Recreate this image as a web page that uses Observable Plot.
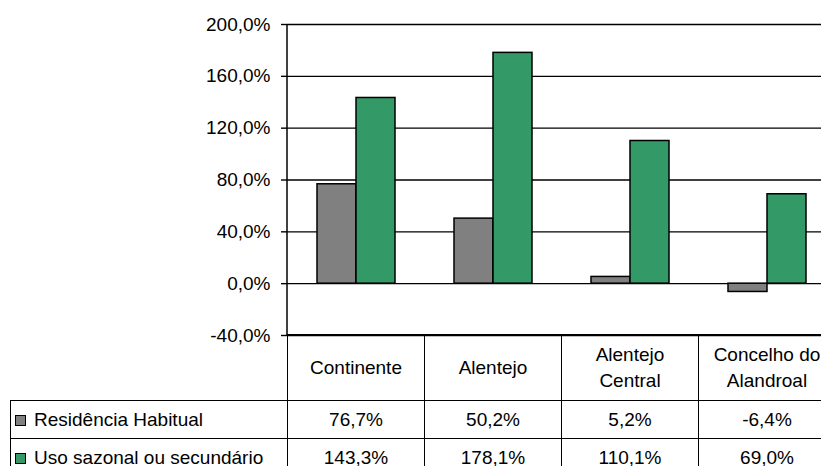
<!DOCTYPE html>
<html lang="pt">
<head>
<meta charset="utf-8">
<script src="https://cdn.jsdelivr.net/npm/d3@7"></script>
<script src="https://cdn.jsdelivr.net/npm/@observablehq/plot@0.6"></script>
<style>
  html, body { margin: 0; padding: 0; background: #fff; overflow: hidden; }
  #grafico { position: relative; width: 821px; height: 466px; overflow: hidden;
             font-family: "Liberation Sans", Arial, sans-serif; color: #000; }
  #grafico svg { position: absolute; left: 0; top: 0; max-width: none !important; }
  #tabela { position: absolute; border-collapse: collapse; table-layout: fixed;
            font-size: 19px; line-height: 26px; }
  #tabela td { border: 1.5px solid #000; text-align: center; padding: 0; white-space: pre-line; }
  #tabela td.vazio { border-top: none; border-left: none; }
  #tabela td.serie { text-align: left; padding-left: 4px; white-space: nowrap; }
  .amostra { display: inline-block; width: 9px; height: 9px; border: 1px solid #000;
             margin-right: 8px; vertical-align: 0px; }
</style>
</head>
<body>
<div id="grafico"></div>
<script>
// Variação do número de alojamentos por tipo de uso
const categorias = ["Continente", "Alentejo", "Alentejo Central", "Concelho do Alandroal"];
const cabecalhos = ["Continente", "Alentejo", "Alentejo\nCentral", "Concelho do\nAlandroal"];
const series = ["Residência Habitual", "Uso sazonal ou secundário"];
const residencia = [76.7, 50.2, 5.2, -6.4];
const sazonal = [143.3, 178.1, 110.1, 69.0];
const cores = ["#808080", "#339966"];
const marcasY = [-40, 0, 40, 80, 120, 160, 200];

const locale = d3.formatLocale({decimal: ",", thousands: ".", grouping: [3], currency: ["", " €"], minus: "-"});
const fmt = locale.format(".1f");
const pct = (v) => fmt(v) + "%";

const valores = [residencia, sazonal];
const dados = series.flatMap((s, j) =>
  categorias.map((c, i) => ({categoria: c, serie: s, valor: valores[j][i]})));

// linha vertical do eixo dos valores (desenhada só na primeira faceta)
let eixoDesenhado = false;
function linhaEixo(index, scales, values, dimensions) {
  if (eixoDesenhado) return null;
  eixoDesenhado = true;
  return d3.create("svg:line")
    .attr("x1", dimensions.marginLeft).attr("x2", dimensions.marginLeft)
    .attr("y1", scales.y(d3.max(marcasY))).attr("y2", scales.y(d3.min(marcasY)))
    .attr("stroke", "#000").attr("stroke-width", 1.5)
    .node();
}

const plot = Plot.plot({
  width: 840,
  height: 347,
  marginLeft: 286,
  marginRight: 4,
  marginTop: 24,
  marginBottom: 12,
  style: {fontFamily: "'Liberation Sans', Arial, sans-serif", fontSize: "19px", color: "#000", background: "transparent"},
  fx: {domain: categorias, padding: 0, axis: null},
  x: {domain: series, paddingInner: 0, paddingOuter: 0.75, axis: null},
  y: {domain: [d3.min(marcasY), d3.max(marcasY)], axis: null},
  color: {domain: series, range: cores},
  marks: [
    Plot.gridY(marcasY, {stroke: "#000", strokeOpacity: 1, strokeWidth: 1.4}),
    Plot.barY(dados, {fx: "categoria", x: "serie", y: "valor", fill: "serie", stroke: "#000", strokeWidth: 1.5}),
    linhaEixo,
    Plot.axisY(marcasY, {tickFormat: pct, tickSize: 6, tickPadding: 11, stroke: "#000", strokeWidth: 1.4, label: null})
  ]
});

const root = document.getElementById("grafico");
root.appendChild(plot);

// tabela de dados alinhada com as categorias
const fx = plot.scale("fx");
const y = plot.scale("y");
const esquerda = 10;
const inicio = fx.apply(categorias[0]);
const banda = fx.bandwidth;

const tabela = d3.select(root).append("table").attr("id", "tabela")
  .style("left", esquerda + "px")
  .style("top", (y.apply(d3.min(marcasY)) - 0.75) + "px")
  .style("width", (inicio - esquerda + banda * categorias.length) + "px");

const cols = tabela.append("colgroup");
cols.append("col").style("width", (inicio - esquerda) + "px");
categorias.forEach(() => cols.append("col").style("width", banda + "px"));

const cab = tabela.append("tr").style("height", "66px");
cab.append("td").attr("class", "vazio");
cabecalhos.forEach(t => cab.append("td").text(t));

series.forEach((s, j) => {
  const tr = tabela.append("tr").style("height", "38px");
  const td = tr.append("td").attr("class", "serie");
  td.append("span").attr("class", "amostra").style("background", cores[j]);
  td.append("span").text(s);
  valores[j].forEach(v => tr.append("td").text(pct(v)));
});
</script>
</body>
</html>
